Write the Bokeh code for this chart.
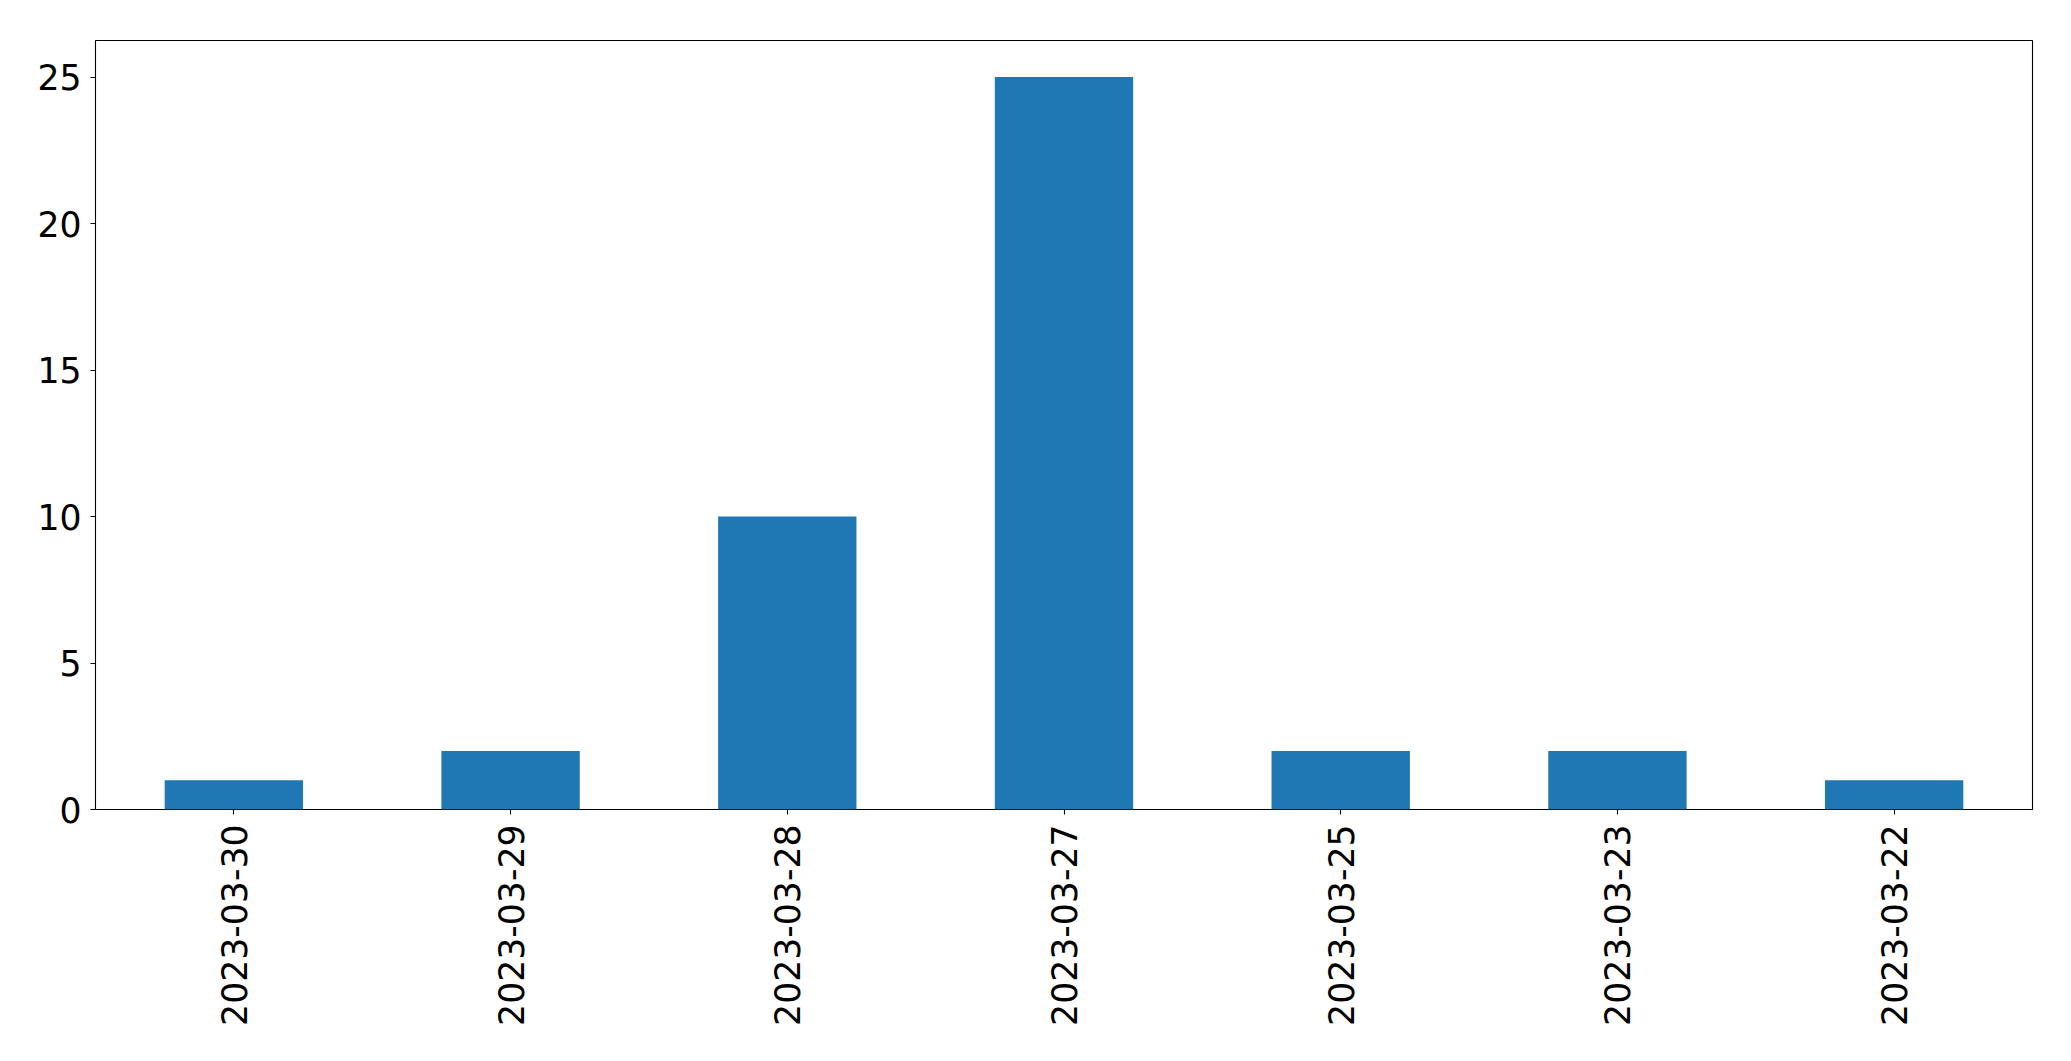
import math
from bokeh.plotting import figure
from bokeh.models import ColumnDataSource, FactorRange, Range1d, FixedTicker
from bokeh.embed import file_html
from bokeh.resources import INLINE

dates = ["2023-03-30", "2023-03-29", "2023-03-28", "2023-03-27", "2023-03-25", "2023-03-23", "2023-03-22"]
counts = [1, 2, 10, 25, 2, 2, 1]
y_ticks = [0, 5, 10, 15, 20, 25]

src = ColumnDataSource(data=dict(x=dates, y=counts))

p = figure(
    x_range=FactorRange(*dates),
    y_range=Range1d(0, 26.25),
    width=2071, height=1061,
    min_border_left=95, min_border_right=39,
    min_border_top=40, min_border_bottom=252,
    output_backend="svg", toolbar_location=None,
)
p.vbar(x="x", top="y", width=0.5, source=src, fill_color="#1f77b4", line_color=None)

p.xgrid.visible = False
p.ygrid.visible = False
p.outline_line_color = "black"
p.outline_line_width = 1.1
p.outline_line_alpha = 1.0

font = "DejaVu Sans"
for ax in (p.xaxis[0], p.yaxis[0]):
    ax.axis_line_color = None
    ax.major_tick_in = 0
    ax.major_tick_out = 5
    ax.major_tick_line_color = "black"
    ax.major_tick_line_width = 1.1
    ax.minor_tick_line_color = None
    ax.major_label_text_font = font
    ax.major_label_text_font_size = "34.67px"
    ax.major_label_text_color = "black"

p.yaxis[0].ticker = FixedTicker(ticks=y_ticks)
p.yaxis[0].major_label_standoff = 9
p.xaxis[0].major_label_orientation = math.pi / 2
p.xaxis[0].major_label_standoff = 10

open("out.html", "w").write(file_html(p, INLINE))
